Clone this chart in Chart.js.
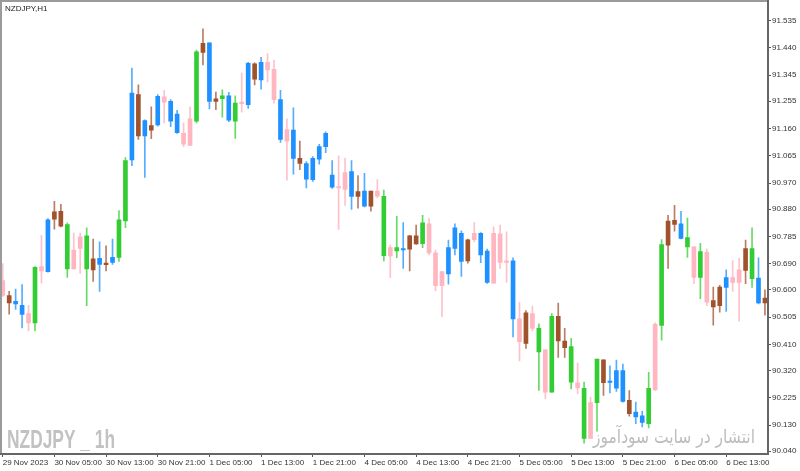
<!DOCTYPE html>
<html>
<head>
<meta charset="utf-8">
<script src="https://cdn.jsdelivr.net/npm/chart.js@4.4.0/dist/chart.umd.min.js"></script>
<style>
html, body { margin: 0; padding: 0; background: #fff; }
#wrap { width: 800px; height: 471px; }
</style>
</head>
<body>
<div id="wrap"><canvas id="grafico" width="800" height="471"></canvas></div>
<script>
// NZDJPY H1, 29 Nov 21:00 -> 6 Dec 19:00
const open = [90.632,90.580,90.551,90.546,90.517,90.485,90.680,90.663,90.845,90.872,
  90.826,90.672,90.743,90.787,90.669,90.709,90.687,90.695,90.712,90.839,
  91.051,91.277,91.134,91.170,91.172,91.270,91.254,91.210,91.143,91.101,
  91.185,91.424,91.457,91.254,91.263,91.273,91.185,91.249,91.242,91.384,
  91.328,91.389,91.365,91.260,91.116,91.154,91.056,91.038,90.982,91.053,
  91.097,90.998,90.958,90.948,91.010,90.924,90.942,90.890,90.942,90.924,
  90.717,90.746,90.738,90.741,90.787,90.760,90.829,90.728,90.614,90.655,
  90.743,90.796,90.700,90.774,90.796,90.734,90.623,90.794,90.695,90.700,
  90.499,90.414,90.517,90.466,90.391,90.244,90.508,90.422,90.403,90.277,
  90.258,90.084,90.208,90.357,90.278,90.258,90.319,90.216,90.175,90.162,
  90.135,90.252,90.476,90.755,90.841,90.829,90.781,90.749,90.643,90.730,
  90.562,90.545,90.608,90.642,90.625,90.667,90.743,90.640,90.554];

const high = [90.691,90.594,90.602,90.618,90.546,90.680,90.789,90.847,90.907,90.896,
  90.832,90.797,90.797,90.815,90.776,90.766,90.752,90.776,90.875,91.059,
  91.369,91.311,91.190,91.235,91.277,91.292,91.260,91.223,91.179,91.235,
  91.432,91.506,91.457,91.286,91.294,91.285,91.273,91.352,91.389,91.388,
  91.407,91.420,91.397,91.292,91.193,91.231,91.116,91.045,91.062,91.105,
  91.148,91.048,91.065,91.057,91.048,90.996,91.004,90.942,90.982,90.946,
  90.755,90.855,90.833,90.789,90.824,90.858,90.847,90.738,90.663,90.772,
  90.829,90.804,90.776,90.833,90.798,90.741,90.818,90.824,90.801,90.711,
  90.557,90.528,90.543,90.482,90.391,90.517,90.554,90.466,90.431,90.345,
  90.279,90.227,90.359,90.357,90.336,90.356,90.342,90.250,90.210,90.178,
  90.313,90.485,90.774,90.858,90.893,90.872,90.849,90.749,90.761,90.741,
  90.609,90.615,90.669,90.701,90.709,90.772,90.815,90.711,90.600];

const low = [90.577,90.515,90.532,90.467,90.457,90.457,90.623,90.661,90.810,90.818,
  90.643,90.672,90.657,90.545,90.629,90.594,90.665,90.688,90.698,90.815,
  91.031,91.122,90.990,91.124,91.168,91.179,91.166,91.143,91.097,91.101,
  91.179,91.380,91.228,91.225,91.199,91.183,91.125,91.216,91.229,91.311,
  91.296,91.321,91.248,91.111,90.980,91.001,91.017,90.953,90.976,91.036,
  91.076,90.952,90.809,90.893,90.879,90.883,90.887,90.873,90.919,90.700,
  90.642,90.711,90.674,90.665,90.757,90.746,90.721,90.597,90.506,90.619,
  90.721,90.646,90.692,90.766,90.694,90.622,90.623,90.674,90.625,90.436,
  90.353,90.396,90.457,90.250,90.221,90.244,90.365,90.365,90.256,90.239,
  90.067,90.084,90.109,90.233,90.242,90.247,90.210,90.161,90.135,90.124,
  90.120,90.250,90.425,90.674,90.803,90.776,90.712,90.621,90.569,90.545,
  90.477,90.522,90.525,90.594,90.491,90.621,90.608,90.551,90.512];

const close = [90.580,90.554,90.560,90.514,90.485,90.678,90.665,90.843,90.870,90.821,
  90.672,90.738,90.784,90.672,90.707,90.688,90.691,90.712,90.843,91.048,
  91.283,91.134,91.187,91.154,91.271,91.251,91.185,91.145,91.105,91.193,
  91.426,91.455,91.254,91.263,91.273,91.189,91.248,91.246,91.386,91.331,
  91.389,91.363,91.260,91.122,91.156,91.056,91.038,90.984,91.056,91.097,
  91.143,90.956,90.953,91.007,90.924,90.941,90.890,90.942,90.925,90.718,
  90.746,90.735,90.743,90.787,90.759,90.832,90.728,90.614,90.663,90.746,
  90.815,90.698,90.773,90.796,90.721,90.625,90.796,90.695,90.700,90.499,
  90.420,90.520,90.466,90.384,90.244,90.508,90.422,90.399,90.279,90.259,
  90.084,90.208,90.359,90.277,90.282,90.319,90.212,90.170,90.158,90.139,
  90.258,90.480,90.757,90.838,90.827,90.778,90.749,90.643,90.732,90.557,
  90.540,90.609,90.642,90.625,90.669,90.743,90.638,90.554,90.571];

// tipo de cor de cada vela: g verde, b azul, r marrom, p rosa
const tipos = ('prbbpgpbrr' + 'gppgrbrbgg' + 'brbrbpbbpp' + 'grbrgbgpbr' + 'bppbpbrbbb' +
  'bbppbrbrpg' + 'pgbrrgpppb' + 'bbrpbbpppb' + 'prpgpgrrgp' + 'gpgrbbbrbb' +
  'gpgrrbgpgp' + 'rrbpprgbr').split('');

const xPosRotulos = [0, 8, 16, 24, 32, 40, 48, 56, 64, 72, 80, 88, 96, 104, 112];
const xRotulos = ['29 Nov 2023', '30 Nov 05:00', '30 Nov 13:00', '30 Nov 21:00', '1 Dec 05:00',
  '1 Dec 13:00', '1 Dec 21:00', '4 Dec 05:00', '4 Dec 13:00', '4 Dec 21:00', '5 Dec 05:00',
  '5 Dec 13:00', '5 Dec 21:00', '6 Dec 05:00', '6 Dec 13:00'];
const yTicks = [91.535, 91.440, 91.345, 91.255, 91.160, 91.065, 90.970, 90.880, 90.785,
  90.690, 90.600, 90.505, 90.410, 90.320, 90.225, 90.130, 90.040];

const corCorpo = { g: '#32CD32', b: '#1E90FF', r: '#A0522D', p: '#FFB6C1' };
const corPavio = { g: 'rgba(50,205,50,0.75)', b: 'rgba(30,144,255,0.75)', r: 'rgba(160,82,45,0.75)', p: 'rgba(255,182,193,0.85)' };

const fonte = 'Liberation Sans';

const corpos = open.map(function(o, i) {
  return { x: i, y: [Math.min(o, close[i]), Math.max(o, close[i])] };
});
const pavios = high.map(function(h, i) {
  return { x: i, y: [low[i], h] };
});

const moldura = {
  id: 'moldura',
  beforeDatasetsDraw(chart) {
    const ctx = chart.ctx;
    ctx.save();
    // marca d'agua do simbolo
    ctx.font = 'bold 25px "' + fonte + '"';
    ctx.fillStyle = '#c2c2c2';
    ctx.textBaseline = 'alphabetic';
    let txt = 'NZDJPY _ 1h';
    let w = ctx.measureText(txt).width;
    let esc = 108 / w;
    ctx.translate(7, 447.5);
    ctx.scale(esc, 1);
    ctx.fillText(txt, 0, 0);
    ctx.restore();

    ctx.save();
    ctx.font = '19px "DejaVu Sans"';
    ctx.fillStyle = '#bdbdbd';
    ctx.textBaseline = 'alphabetic';
    ctx.direction = 'rtl';
    ctx.textAlign = 'right';
    txt = 'انتشار در سایت سودآموز';
    w = ctx.measureText(txt).width;
    esc = Math.min(1.2, 162 / w);
    ctx.translate(755, 443);
    ctx.scale(esc, 1);
    ctx.fillText(txt, 0, 0);
    ctx.restore();
  },
  afterDraw(chart) {
    const ctx = chart.ctx;
    const a = chart.chartArea;
    ctx.save();
    ctx.fillStyle = '#9a9a9a';
    ctx.fillRect(0, 0, a.right, 2);
    ctx.fillRect(0, 0, 2, a.bottom);
    ctx.fillStyle = '#666';
    ctx.fillRect(a.right - 1, 0, 2, a.bottom + 1);
    ctx.fillRect(0, a.bottom - 1, a.right + 1, 2);
    ctx.font = '8px "' + fonte + '"';
    ctx.fillStyle = '#222';
    ctx.textBaseline = 'alphabetic';
    ctx.fillText('NZDJPY,H1', 5, 11);
    ctx.restore();
  }
};

const ctx = document.getElementById('grafico').getContext('2d');
new Chart(ctx, {
  type: 'bar',
  data: {
    datasets: [{
      label: 'corpo',
      data: corpos,
      backgroundColor: tipos.map(function(t) { return corCorpo[t]; }),
      barThickness: 4,
      minBarLength: 1.5,
      grouped: false,
      order: 0
    }, {
      label: 'pavio',
      data: pavios,
      backgroundColor: tipos.map(function(t) { return corPavio[t]; }),
      barThickness: 1,
      grouped: false,
      order: 1
    }]
  },
  options: {
    responsive: false,
    animation: false,
    devicePixelRatio: 1,
    layout: { padding: { top: 2, left: 2, right: 0, bottom: 0 } },
    plugins: { legend: { display: false }, tooltip: { enabled: false } },
    scales: {
      x: {
        type: 'linear',
        position: 'bottom',
        offset: false,
        min: -0.11,
        max: 118.47,
        grid: { display: true, offset: false, drawOnChartArea: false, drawTicks: true, tickLength: 3, tickColor: '#555' },
        border: { display: false },
        afterBuildTicks: function(s) { s.ticks = xPosRotulos.map(function(v) { return { value: v }; }); },
        afterFit: function(s) { s.height = 17; },
        ticks: {
          autoSkip: false, maxRotation: 0, align: 'start', padding: 1,
          font: { family: fonte, size: 8 }, color: '#333',
          callback: function(v, i) { return xRotulos[i]; }
        }
      },
      y: {
        type: 'linear',
        position: 'right',
        min: 90.0297,
        max: 91.5856,
        beginAtZero: false,
        bounds: 'data',
        grid: { display: true, drawOnChartArea: false, drawTicks: true, tickLength: 3, tickColor: '#555' },
        border: { display: false },
        afterBuildTicks: function(s) { s.ticks = yTicks.map(function(v) { return { value: v }; }); },
        afterFit: function(s) { s.width = 32; },
        ticks: {
          padding: 1,
          font: { family: fonte, size: 8 }, color: '#333',
          callback: function(v, i) { return yTicks[i].toFixed(3); }
        }
      }
    }
  },
  plugins: [moldura]
});
</script>
</body>
</html>
